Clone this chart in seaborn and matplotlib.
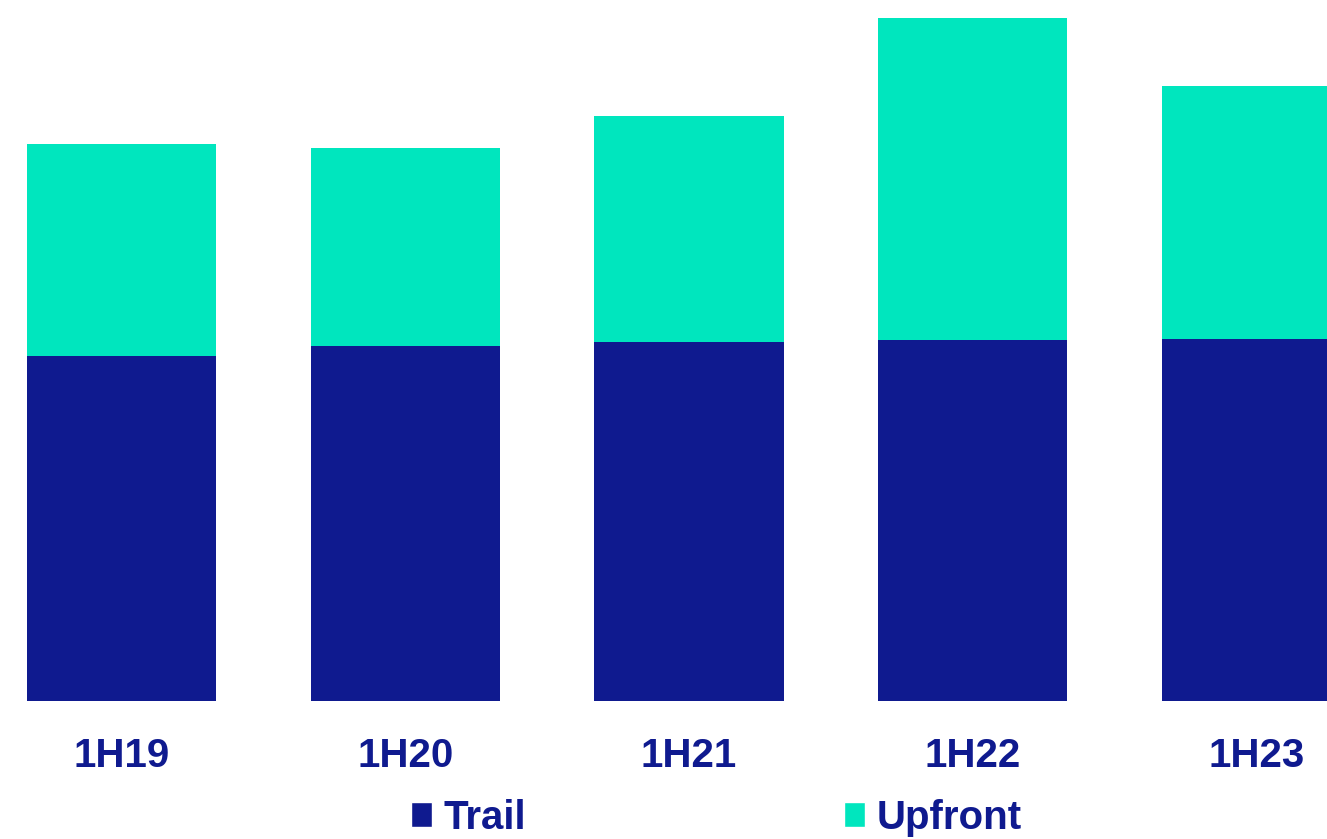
import matplotlib
matplotlib.use("Agg")
import matplotlib.pyplot as plt
from matplotlib.patches import Patch
import seaborn as sns
import pandas as pd

# Half-year revenue split (stacked bars)
periods = ["1H19", "1H20", "1H21", "1H22", "1H23"]
trail = [345, 355, 359, 361, 362]
upfront = [212, 198, 226, 322, 253]

NAVY = "#0F1A8F"
TEAL = "#00E6BE"

sns.set_theme(style="white")
plt.rcParams["font.family"] = ["Liberation Sans", "DejaVu Sans"]

df = pd.DataFrame({"period": periods, "trail": trail, "upfront": upfront})
df["total"] = df["trail"] + df["upfront"]

fig = plt.figure(figsize=(13.27, 8.39), dpi=100)
ax = fig.add_axes([0, 0.1645, 1, 0.8355])

# Total height in teal, trail portion drawn over it in navy
sns.barplot(data=df, x="period", y="total", color=TEAL, width=0.667,
            saturation=1, linewidth=0, ax=ax)
sns.barplot(data=df, x="period", y="trail", color=NAVY, width=0.667,
            saturation=1, linewidth=0, ax=ax)

ax.set_xlim(-0.428, 4.248)
ax.set_ylim(0, 701)
ax.set_xlabel("")
ax.set_ylabel("")
ax.set_yticks([])
sns.despine(ax=ax, left=True, bottom=True)
ax.tick_params(axis="x", length=0, pad=26)
for lbl in ax.get_xticklabels():
    lbl.set_fontsize(29)
    lbl.set_fontweight("bold")
    lbl.set_color(NAVY)

handles = [Patch(facecolor=NAVY, label="Trail"),
           Patch(facecolor=TEAL, label="Upfront")]
fig.legend(handles=handles, loc="center", bbox_to_anchor=(0.54, 0.025),
           ncol=2, frameon=False, handlelength=0.5, handleheight=0.57,
           handletextpad=0.3, columnspacing=7.9,
           prop={"size": 29, "weight": "bold"}, labelcolor=NAVY)

fig.savefig("out.png", dpi=100)
